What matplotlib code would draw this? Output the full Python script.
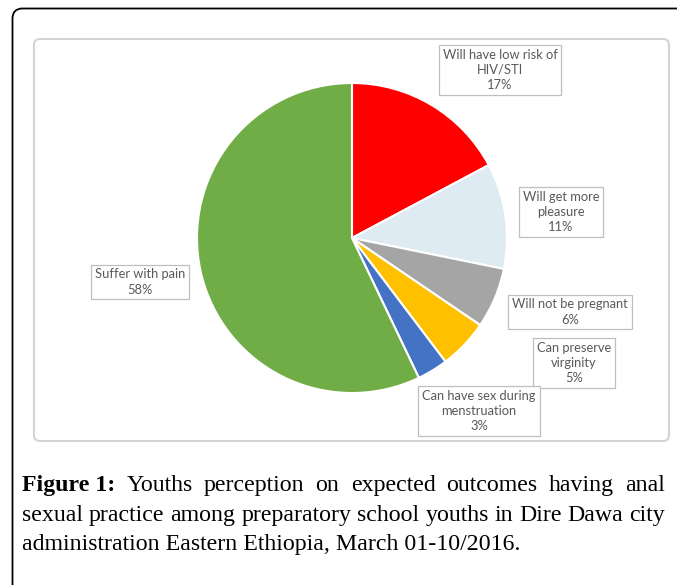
"""
Pie chart of youths' perceived outcomes of anal sexual practice (Figure 1).
"""
import matplotlib
matplotlib.use("Agg")
import matplotlib.pyplot as plt
from matplotlib.patches import FancyBboxPatch

# ---- data ----
categories = ["Will have low risk of\nHIV/STI", "Will get more\npleasure",
              "Will not be pregnant", "Can preserve\nvirginity",
              "Can have sex during\nmenstruation", "Suffer with pain"]
shares = [17.2, 11.0, 6.3, 5.2, 3.2, 57.1]
pct_labels = ["17%", "11%", "6%", "5%", "3%", "58%"]
colors = ["#FF0000", "#DEEBF3", "#A5A5A5", "#FFC000", "#4472C4", "#70AD47"]

caption_lines = [
    ["Figure 1:", "Youths", "perception", "on", "expected", "outcomes", "having", "anal"],
    "sexual practice among preparatory school youths in Dire Dawa city".split(),
    ["administration Eastern Ethiopia, March 01-10/2016."],
]

# ---- layout (pixels) ----
W, H = 677, 585
cx, cy, r = 352, 238, 155
label_xy = [(500, 70), (561, 212), (570, 312), (574, 363), (479, 411), (140, 282)]

fig = plt.figure(figsize=(W / 100, H / 100), dpi=100)
bg = fig.add_axes([0, 0, 1, 1])
bg.set_xlim(0, W)
bg.set_ylim(H, 0)
bg.axis("off")

# outer rounded frame (runs off the right and bottom edges)
bg.add_patch(FancyBboxPatch((12.5, 8.5), 700, 620, boxstyle="round,pad=0,rounding_size=10",
                            fc="white", ec="black", lw=1.3))
# chart area frame
bg.add_patch(FancyBboxPatch((34, 39), 635, 402, boxstyle="round,pad=0,rounding_size=6",
                            fc="white", ec="#D4D4D4", lw=1.5))

# pie
ax = fig.add_axes([(cx - r) / W, 1 - (cy + r) / H, 2 * r / W, 2 * r / H])
ax.pie(shares, colors=colors, startangle=90, counterclock=False, radius=1,
       wedgeprops=dict(edgecolor="white", linewidth=1.5))
ax.set_xlim(-1, 1)
ax.set_ylim(-1, 1)

for cat, pct, (x, y) in zip(categories, pct_labels, label_xy):
    bg.text(x, y, cat + "\n" + pct, ha="center", va="center", fontsize=9.3,
            family="Lato", color="#595959", linespacing=1.3, zorder=5,
            bbox=dict(boxstyle="square,pad=0.3", fc="white", ec="#BFBFBF", lw=0.9))

# caption, justified like the journal layout
renderer = fig.canvas.get_renderer()
x_left, x_right = 22, 665
baselines = [491, 521, 550]
fs = 17.2


def word_text(x, y, s, bold=False):
    return bg.text(x, y, s, ha="left", va="baseline", fontsize=fs,
                   family="Liberation Serif", fontweight="bold" if bold else "normal",
                   color="black")


for i, (words, y) in enumerate(zip(caption_lines, baselines)):
    texts = [word_text(0, y, w, bold=(i == 0 and j == 0)) for j, w in enumerate(words)]
    widths = [t.get_window_extent(renderer).width for t in texts]
    gap = (x_right - x_left - sum(widths)) / (len(words) - 1) if len(words) > 1 else 0
    x = x_left
    for t, w in zip(texts, widths):
        t.set_x(x)
        x += w + gap

fig.savefig("out.png", dpi=100)
